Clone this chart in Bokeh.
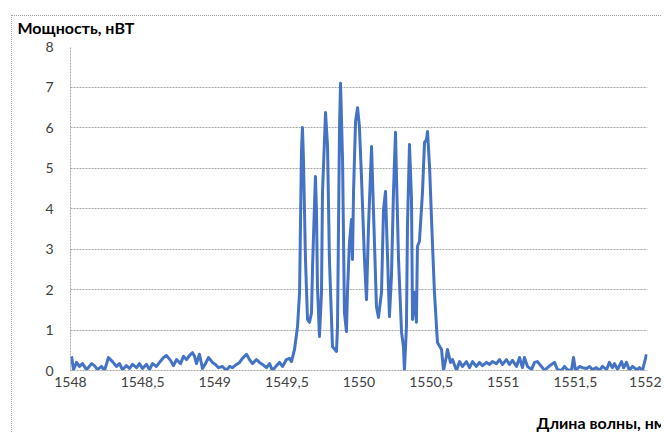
from bokeh.plotting import figure
from bokeh.models import FixedTicker, Title, Range1d
from bokeh.embed import file_html
from bokeh.resources import INLINE

# Wavelength, nm
wavelength = [
    1548.007, 1548.021, 1548.042, 1548.062, 1548.083, 1548.111, 1548.146, 1548.166,
    1548.187, 1548.215, 1548.236, 1548.263, 1548.291, 1548.319, 1548.340, 1548.360,
    1548.388, 1548.409, 1548.430, 1548.458, 1548.478, 1548.499, 1548.527, 1548.548,
    1548.568, 1548.596, 1548.617, 1548.645, 1548.665, 1548.693, 1548.714, 1548.735,
    1548.763, 1548.783, 1548.804, 1548.825, 1548.846, 1548.860, 1548.873, 1548.894,
    1548.915, 1548.936, 1548.957, 1548.984, 1549.005, 1549.026, 1549.054, 1549.081,
    1549.102, 1549.123, 1549.151, 1549.172, 1549.192, 1549.220, 1549.241, 1549.262,
    1549.289, 1549.310, 1549.331, 1549.359, 1549.380, 1549.400, 1549.428, 1549.449,
    1549.470, 1549.497, 1549.518, 1549.532, 1549.553, 1549.574, 1549.588, 1549.601,
    1549.608, 1549.615, 1549.629, 1549.643, 1549.657, 1549.671, 1549.678, 1549.698,
    1549.705, 1549.712, 1549.726, 1549.740, 1549.747, 1549.768, 1549.782, 1549.795,
    1549.816, 1549.844, 1549.851, 1549.865, 1549.872, 1549.886, 1549.899, 1549.913,
    1549.920, 1549.934, 1549.948, 1549.955, 1549.962, 1549.976, 1549.990, 1550.003,
    1550.017, 1550.038, 1550.052, 1550.066, 1550.087, 1550.100, 1550.121, 1550.135,
    1550.156, 1550.170, 1550.184, 1550.191, 1550.211, 1550.225, 1550.239, 1550.253,
    1550.260, 1550.274, 1550.295, 1550.308, 1550.315, 1550.329, 1550.336, 1550.350,
    1550.364, 1550.371, 1550.385, 1550.398, 1550.405, 1550.419, 1550.440, 1550.454,
    1550.468, 1550.475, 1550.489, 1550.509, 1550.523, 1550.544, 1550.572, 1550.586,
    1550.606, 1550.613, 1550.634, 1550.648, 1550.676, 1550.697, 1550.717, 1550.745,
    1550.766, 1550.787, 1550.814, 1550.835, 1550.856, 1550.884, 1550.905, 1550.925,
    1550.953, 1550.974, 1550.995, 1551.022, 1551.043, 1551.064, 1551.092, 1551.113,
    1551.133, 1551.147, 1551.168, 1551.196, 1551.217, 1551.237, 1551.265, 1551.286,
    1551.307, 1551.334, 1551.355, 1551.376, 1551.404, 1551.425, 1551.445, 1551.473,
    1551.487, 1551.501, 1551.529, 1551.549, 1551.577, 1551.598, 1551.619, 1551.646,
    1551.667, 1551.688, 1551.716, 1551.736, 1551.757, 1551.771, 1551.792, 1551.820,
    1551.834, 1551.854, 1551.875, 1551.896, 1551.924, 1551.944, 1551.965, 1551.993,
]

# Power, nW
power = [
    0.35, 0.02, 0.20, 0.10, 0.17, 0.02, 0.17, 0.12,
    0.02, 0.10, 0.00, 0.32, 0.22, 0.10, 0.17, 0.02,
    0.12, 0.05, 0.15, 0.07, 0.17, 0.05, 0.15, 0.02,
    0.17, 0.10, 0.20, 0.32, 0.37, 0.25, 0.12, 0.27,
    0.17, 0.35, 0.27, 0.37, 0.44, 0.35, 0.17, 0.40,
    0.05, 0.17, 0.32, 0.20, 0.15, 0.07, 0.10, 0.00,
    0.10, 0.07, 0.15, 0.20, 0.30, 0.40, 0.27, 0.17,
    0.27, 0.20, 0.15, 0.07, 0.17, 0.00, 0.12, 0.20,
    0.10, 0.27, 0.30, 0.22, 0.52, 1.09, 1.93, 5.38,
    6.00, 5.21, 2.74, 1.26, 1.19, 1.43, 2.57, 4.79,
    3.98, 2.07, 0.84, 1.93, 4.40, 6.37, 5.53, 2.74,
    0.59, 0.47, 1.09, 6.02, 7.09, 5.21, 1.43, 0.96,
    1.93, 3.16, 3.73, 2.74, 4.40, 6.15, 6.49, 6.02,
    4.79, 2.74, 1.75, 3.56, 5.53, 3.98, 1.58, 1.31,
    1.93, 3.98, 4.42, 3.56, 1.33, 2.32, 4.40, 5.88,
    4.79, 2.74, 0.94, 0.59, 0.00, 1.09, 3.56, 5.58,
    4.22, 1.26, 1.93, 1.19, 3.06, 3.19, 4.40, 5.63,
    5.70, 5.90, 5.04, 3.16, 1.93, 0.69, 0.52, 0.00,
    0.35, 0.52, 0.20, 0.27, 0.00, 0.22, 0.10, 0.22,
    0.07, 0.22, 0.10, 0.20, 0.12, 0.20, 0.15, 0.22,
    0.17, 0.27, 0.15, 0.27, 0.15, 0.25, 0.10, 0.32,
    0.07, 0.32, 0.10, 0.02, 0.20, 0.22, 0.10, 0.00,
    0.07, 0.15, 0.20, 0.02, 0.00, 0.10, 0.02, 0.00,
    0.32, 0.00, 0.10, 0.07, 0.05, 0.10, 0.02, 0.07,
    0.00, 0.10, 0.02, 0.20, 0.07, 0.17, 0.02, 0.22,
    0.07, 0.20, 0.00, 0.10, 0.02, 0.07, 0.00, 0.40,
]

x_ticks = [1548.0, 1548.5, 1549.0, 1549.5, 1550.0, 1550.5, 1551.0, 1551.5, 1552.0]
x_tick_labels = ["1548", "1548,5", "1549", "1549,5", "1550", "1550,5", "1551", "1551,5", "1552"]
y_ticks = [0, 1, 2, 3, 4, 5, 6, 7, 8]
y_tick_labels = ["0", "1", "2", "3", "4", "5", "6", "7", "8"]

y_title = "Мощность, нВТ"
x_title = "Длина волны, нм"

FONT = "Lato"
GRAY = "#a6a6a6"
TEXT = "#404040"

p = figure(width=650, height=417, output_backend="svg", toolbar_location=None,
           x_range=Range1d(1548, 1552), y_range=Range1d(0, 8),
           min_border_left=58, min_border_right=15, min_border_top=30,
           min_border_bottom=63, background_fill_color="white")
p.styles = {"margin-left": "11px", "margin-top": "15px",
            "border-left": "1px dotted #999999", "border-top": "1px dotted #999999"}

p.line(wavelength, power, line_color="#4472c4", line_width=3, line_join="round")

p.outline_line_color = None
p.xgrid.visible = False
p.ygrid.ticker = FixedTicker(ticks=y_ticks)
p.ygrid.grid_line_color = GRAY
p.ygrid.grid_line_dash = "2 1"
p.ygrid.grid_line_width = 1

xa = p.xaxis[0]
xa.ticker = FixedTicker(ticks=x_ticks)
xa.major_label_overrides = {t: l for t, l in zip(x_ticks, x_tick_labels)}
xa.axis_line_color = GRAY
xa.axis_line_dash = "2 1"
xa.major_tick_line_color = None
xa.minor_tick_line_color = None
xa.major_label_text_font = FONT
xa.major_label_text_font_size = "14px"
xa.major_label_text_color = TEXT
xa.major_label_standoff = 0

ya = p.yaxis[0]
ya.ticker = FixedTicker(ticks=y_ticks)
ya.major_label_overrides = {t: l for t, l in zip(y_ticks, y_tick_labels)}
ya.axis_line_color = GRAY
ya.axis_line_dash = "2 1"
ya.major_tick_line_color = None
ya.minor_tick_line_color = None
ya.major_label_text_font = FONT
ya.major_label_text_font_size = "14px"
ya.major_label_text_color = TEXT
ya.major_label_standoff = 11

# empty spacer panels push the axis titles to the outer edges
p.add_layout(Title(text=" ", text_font_size="2px", standoff=2), "above")
p.add_layout(Title(text=y_title, align="left", offset=-53, text_font=FONT,
                   text_font_size="16px", text_font_style="bold", text_color="#000000",
                   vertical_align="top", standoff=3), "above")
p.add_layout(Title(text=" ", text_font_size="2px", standoff=15), "below")
p.add_layout(Title(text=x_title, align="left", offset=466, text_font=FONT,
                   text_font_size="16px", text_font_style="bold", text_color="#000000",
                   vertical_align="bottom", standoff=4), "below")

open("out.html", "w").write(file_html(p, INLINE))
